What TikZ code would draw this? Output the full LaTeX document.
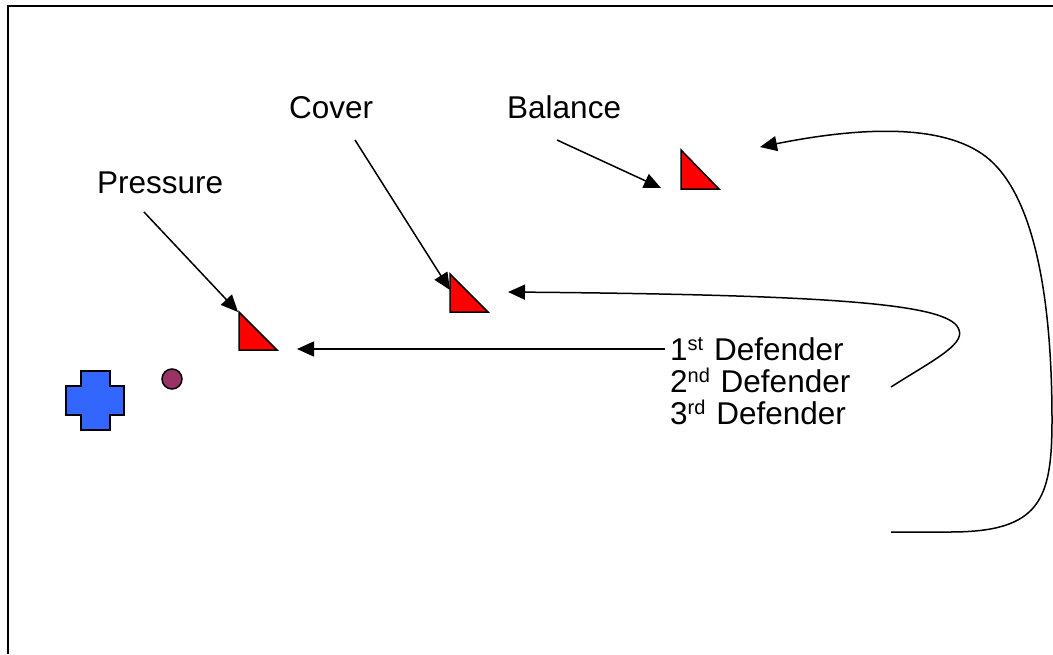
\documentclass[tikz,border=0pt]{standalone}
\usepackage{fontspec}
\setmainfont{Liberation Sans}
\usetikzlibrary{arrows.meta}
\definecolor{crossblue}{RGB}{51,102,255}
\definecolor{ballcol}{RGB}{153,51,102}
\newcommand{\supx}[1]{\raisebox{9.5pt}{\fontsize{20}{20}\selectfont #1}\kern2pt\relax}
\begin{document}
\begin{tikzpicture}[x=1pt,y=-1pt,
  lbl/.style={font=\fontsize{31.5}{37}\selectfont, inner sep=0pt, anchor=base west},
  conn/.style={line width=1.5pt, -{Triangle[length=17pt,width=15pt]}},
  tri/.style={draw=black, line width=1.5pt, fill=red, line join=miter}]
\useasboundingbox (0,0) rectangle (1053,654);
\draw[line width=2.5pt] (8,654) -- (8,6) -- (1053,6);
% players
\draw[draw=black, fill=crossblue, line width=1.5pt] (81,371) -- (110,371) -- (110,386) -- (124,386) -- (124,415) -- (110,415) -- (110,430) -- (81,430) -- (81,415) -- (66,415) -- (66,386) -- (81,386) -- cycle;
\node[circle, draw, fill=ballcol, minimum size=20pt, inner sep=0pt, line width=1.5pt] (ball) at (172,379) {};
\draw[tri] (239,312) -- (239,350) -- (277,350) -- cycle;
\draw[tri] (450,274) -- (450,312) -- (488,312) -- cycle;
\draw[tri] (681,150) -- (681,189) -- (719,189) -- cycle;
% labels
\node[lbl] (pressure) at (97,193) {Pressure};
\node[lbl] (cover) at (289,118) {Cover};
\node[lbl] (balance) at (507,118) {Balance};
\node[lbl] (def1) at (670,360) {1\supx{st} Defender};
\node[lbl] (def2) at (670,392) {2\supx{nd} Defender};
\node[lbl] (def3) at (670,424) {3\supx{rd} Defender};
% connector ends
\coordinate (pS) at (144,212);
\coordinate (pT) at (238,312);
\coordinate (cS) at (355,140);
\coordinate (cT) at (450,290);
\coordinate (bS) at (557,140);
\coordinate (bT) at (661,188);
\coordinate (d1S) at (665,349);
\coordinate (d1T) at (297,349);
\coordinate (d2S) at (891,387);
\coordinate (d2T) at (508,292);
\coordinate (d3S) at (891,532);
\coordinate (d3T) at (760,147);
\draw[conn] (pS) -- (pT);
\draw[conn] (cS) -- (cT);
\draw[conn] (bS) -- (bT);
\draw[conn] (d1S) -- (d1T);
\draw[conn] (d2S) .. controls (930,362) and (965,345) .. (959,330) .. controls (952,305) and (850,295) .. (d2T);
\draw[conn] (d3S) -- (950,532) .. controls (1040,532) and (1052,500) .. (1052,420) .. controls (1052,300) and (1035,200) .. (990,160) .. controls (950,125) and (870,125) .. (d3T);
\end{tikzpicture}
\end{document}
